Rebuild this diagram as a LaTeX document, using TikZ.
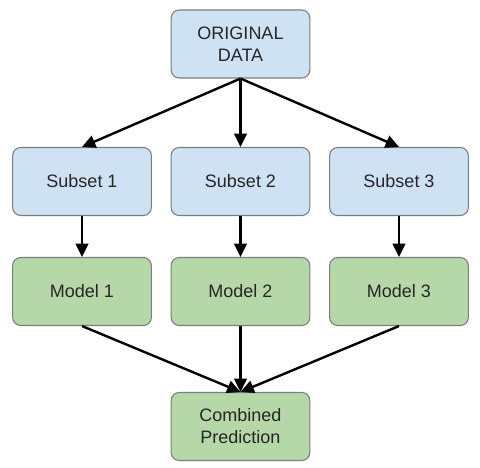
\documentclass[tikz,border=0pt]{standalone}
\usepackage{fontspec}
\setmainfont{Liberation Sans}
\usetikzlibrary{arrows.meta}
\definecolor{boxblue}{HTML}{CFE2F3}
\definecolor{boxgreen}{HTML}{B6D7A8}
\definecolor{boxline}{HTML}{78807F}

\begin{document}
\begin{tikzpicture}[x  = 0.75pt,
y  = -0.75pt,
databox/.style  = {draw=boxline, line width=0.8pt, rounded corners=6pt,
                   minimum width=104pt, minimum height=51pt, align=center,
                   font=\fontsize{13.5}{16.5}\selectfont, text=black!85},
arrow/.style    = {-{Triangle[length=10pt,width=9.5pt]}, line width=1.8pt}]
\useasboundingbox (0,0) rectangle (480,468);

\node[databox, fill=boxblue] (orig) at (240.5,44) {ORIGINAL\\DATA};

\node[databox, fill=boxblue] (sub1) at (82,181.5) {Subset 1};
\node[databox, fill=boxblue] (sub2) at (240.5,181.5) {Subset 2};
\node[databox, fill=boxblue] (sub3) at (399,181.5) {Subset 3};

\node[databox, fill=boxgreen] (mod1) at (82,291.5) {Model 1};
\node[databox, fill=boxgreen] (mod2) at (240.5,291.5) {Model 2};
\node[databox, fill=boxgreen] (mod3) at (399,291.5) {Model 3};

\node[databox, fill=boxgreen] (comb) at (240.5,426.5) {Combined\\Prediction};

\draw[arrow] (orig.south) -- (sub1.north);
\draw[arrow] (orig.south) -- (sub2.north);
\draw[arrow] (orig.south) -- (sub3.north);

\draw[arrow] (sub1.south) -- (mod1.north);
\draw[arrow] (sub2.south) -- (mod2.north);
\draw[arrow] (sub3.south) -- (mod3.north);

\draw[arrow] (mod1.south) -- (comb.north);
\draw[arrow] (mod2.south) -- (comb.north);
\draw[arrow] (mod3.south) -- (comb.north);
\end{tikzpicture}
\end{document}
